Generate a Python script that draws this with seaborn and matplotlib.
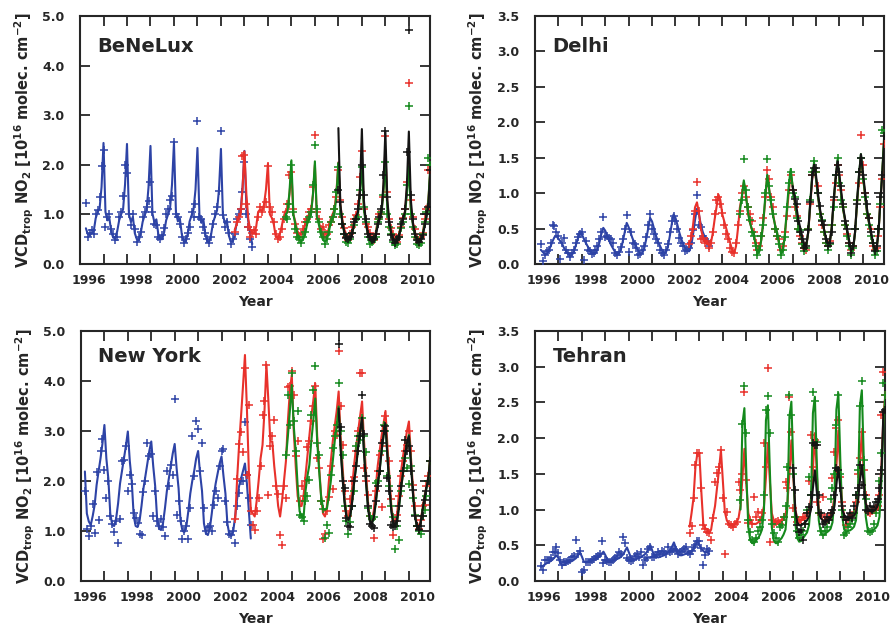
import numpy as np
import pandas as pd
import matplotlib
matplotlib.use("Agg")
import matplotlib.pyplot as plt
import seaborn as sns
from matplotlib.ticker import MultipleLocator, FormatStrFormatter

# ==========================================
# DATA: monthly tropospheric NO2 columns (1e16 molec/cm2)
# "line" = fitted seasonal model, "obs" = monthly means (+ markers)
# ==========================================
INSTRUMENTS = ["GOME", "SCIAMACHY", "OMI", "GOME-2"]
COLORS = {"GOME": "#2d43a6", "SCIAMACHY": "#e8312b", "OMI": "#14891c", "GOME-2": "#141414"}

# ---- BeNeLux ----
benelux_gome_start = (1996, 4)
benelux_gome_line = [
    0.72, 0.60, 0.58, 0.62, 0.66, 0.92, 1.05, 1.12, 1.55,
    2.44, 1.05, 0.88, 0.92, 0.64, 0.53, 0.52, 0.66, 0.88, 1.00, 1.10, 1.60,
    2.42, 1.00, 0.85, 0.95, 0.62, 0.50, 0.47, 0.62, 0.85, 0.98, 1.08, 1.55,
    2.38, 1.02, 0.84, 0.90, 0.60, 0.50, 0.50, 0.64, 0.88, 1.00, 1.12, 1.60,
    2.44, 1.05, 0.86, 0.92, 0.60, 0.46, 0.45, 0.60, 0.86, 0.98, 1.10, 1.50,
    2.34, 1.00, 0.83, 0.90, 0.60, 0.46, 0.45, 0.60, 0.84, 0.96, 1.08, 1.50,
    2.32, 1.00, 0.82, 0.88, 0.58, 0.45, 0.45, 0.58, 0.82, 0.95, 1.05, 1.50,
    2.28, 1.15, 0.85, 0.60, 0.40]
benelux_gome_obs = [
    1.22, 0.55, 0.62, 0.68, 0.60, 1.00, 1.08, 1.35, 1.97,
    2.30, 0.75, 0.95, 1.00, 0.70, 0.60, 0.48, 0.55, 0.95, 1.05, 1.38, 2.00,
    1.83, 1.00, 0.78, 1.00, 0.70, 0.45, 0.55, 0.65, 0.95, 1.05, 1.15, 1.27,
    1.65, 1.05, 0.80, 0.78, 0.55, 0.50, 0.58, 0.72, 1.00, 1.10, 1.30, 1.37,
    2.46, 1.00, 0.95, 0.80, 0.55, 0.42, 0.50, 0.62, 0.75, 1.05, 0.95, 1.20,
    2.88, 0.95, 0.90, 0.75, 0.62, 0.50, 0.42, 0.55, 0.80, 1.00, 1.15, 1.48,
    2.68, 0.98, 0.75, 0.85, 0.62, 0.40, 0.50, 0.60, 0.90, 1.00, 1.10, 1.45,
    2.05, 1.00, 0.75, 0.50, 0.35]
benelux_scia_start = (2002, 8)
benelux_scia_line = [
    0.68, 0.80, 0.93, 0.98, 1.50,
    2.27, 1.40, 0.90, 0.68, 0.64, 0.62, 0.75, 1.05, 1.10, 1.05, 1.20, 1.50,
    2.02, 1.00, 0.93, 0.80, 0.55, 0.53, 0.60, 0.75, 0.95, 1.07, 1.10, 1.40,
    1.87, 1.00, 0.85, 0.67, 0.60, 0.60, 0.65, 0.80, 0.93, 1.00, 1.05, 1.40,
    2.00, 0.95, 0.85, 0.70, 0.60, 0.53, 0.55, 0.70, 0.90, 1.00, 1.10, 1.45,
    2.05, 1.20, 0.90, 0.70, 0.60, 0.55, 0.55, 0.65, 0.85, 1.00, 1.10, 1.50,
    2.15, 1.20, 0.85, 0.70, 0.58, 0.52, 0.50, 0.62, 0.85, 0.95, 1.05, 1.50,
    2.30, 1.20, 0.85, 0.70, 0.55, 0.50, 0.50, 0.60, 0.80, 0.95, 1.05, 1.50,
    2.05, 1.15, 0.85, 0.65, 0.55, 0.48, 0.50, 0.60, 0.85, 1.00, 1.30, 1.90]
benelux_scia_obs = [
    0.65, 0.85, 0.95, 1.10, 2.17,
    2.20, 1.20, 0.75, 0.55, 0.62, 0.68, 0.60, 0.95, 1.15, 1.05, 1.15, 1.25,
    1.98, 1.15, 1.05, 0.85, 0.60, 0.50, 0.55, 0.70, 0.90, 1.05, 1.20, 1.80,
    1.85, 1.10, 0.80, 0.62, 0.55, 0.60, 0.70, 0.85, 0.90, 1.05, 1.10, 1.55,
    2.60, 1.05, 0.90, 0.70, 0.75, 0.62, 0.60, 0.78, 0.85, 0.95, 1.10, 1.35,
    1.90, 1.30, 0.95, 0.72, 0.55, 0.48, 0.60, 0.75, 0.90, 0.98, 1.20, 1.75,
    2.27, 1.10, 0.80, 0.75, 0.62, 0.55, 0.48, 0.60, 0.90, 1.00, 1.00, 1.35,
    2.59, 1.45, 0.90, 0.72, 0.60, 0.50, 0.45, 0.58, 0.75, 0.92, 1.10, 1.65,
    3.65, 1.30, 0.95, 0.70, 0.52, 0.42, 0.55, 0.62, 0.90, 1.10, 1.90, 1.90]
benelux_omi_start = (2004, 10)
benelux_omi_line = [
    0.98, 1.05, 1.45,
    2.09, 1.00, 0.80, 0.62, 0.50, 0.45, 0.50, 0.60, 0.80, 0.90, 1.00, 1.40,
    2.07, 0.95, 0.80, 0.60, 0.50, 0.45, 0.48, 0.62, 0.82, 0.92, 1.00, 1.40,
    2.04, 1.10, 0.85, 0.62, 0.50, 0.45, 0.47, 0.60, 0.80, 0.90, 1.00, 1.40,
    2.05, 1.10, 0.82, 0.60, 0.48, 0.42, 0.45, 0.58, 0.80, 0.90, 1.00, 1.45,
    2.05, 1.10, 0.80, 0.60, 0.48, 0.42, 0.45, 0.58, 0.78, 0.90, 1.00, 1.40,
    1.97, 1.10, 0.80, 0.60, 0.48, 0.42, 0.45, 0.58, 0.80, 0.95, 1.30, 2.00]
benelux_omi_obs = [
    0.95, 0.90, 1.20,
    2.00, 1.05, 0.70, 0.55, 0.50, 0.42, 0.55, 0.65, 0.85, 0.95, 1.05, 1.60,
    2.40, 1.10, 0.85, 0.65, 0.55, 0.40, 0.50, 0.65, 0.85, 0.95, 1.10, 1.45,
    1.95, 1.00, 0.80, 0.60, 0.45, 0.42, 0.50, 0.62, 0.78, 0.90, 0.95, 1.50,
    1.95, 1.15, 0.85, 0.55, 0.40, 0.45, 0.50, 0.55, 0.85, 0.90, 1.05, 1.40,
    2.05, 1.00, 0.75, 0.60, 0.45, 0.38, 0.40, 0.55, 0.72, 0.85, 1.00, 1.60,
    3.18, 1.00, 0.75, 0.55, 0.40, 0.38, 0.42, 0.60, 0.85, 1.05, 2.13, 2.00]
benelux_gome2_start = (2007, 1)
benelux_gome2_line = [
    2.74, 1.20, 0.85, 0.65, 0.55, 0.50, 0.50, 0.60, 0.80, 0.95, 1.05, 1.50,
    2.72, 1.30, 0.85, 0.62, 0.50, 0.45, 0.45, 0.55, 0.75, 0.90, 1.05, 1.60,
    2.68, 1.30, 0.85, 0.62, 0.50, 0.45, 0.45, 0.55, 0.75, 0.90, 1.05, 1.60,
    2.67, 1.30, 0.85, 0.62, 0.50, 0.45, 0.45, 0.55, 0.75, 0.95, 1.20, 1.90]
benelux_gome2_obs = [
    1.50, 1.25, 0.80, 0.60, 0.52, 0.50, 0.55, 0.62, 0.85, 0.90, 1.10, 1.40,
    2.00, 1.40, 0.90, 0.60, 0.55, 0.48, 0.50, 0.60, 0.80, 0.95, 1.10, 1.80,
    2.68, 1.35, 0.85, 0.58, 0.48, 0.42, 0.50, 0.55, 0.80, 0.90, 1.10, 2.25,
    4.72, 1.40, 0.90, 0.60, 0.48, 0.45, 0.50, 0.58, 0.80, 1.00, 1.15, 1.90]

# ---- Delhi ----
delhi_gome_start = (1996, 4)
delhi_gome_line = [
    0.20, 0.17, 0.14, 0.14, 0.18, 0.25, 0.32, 0.38, 0.39,
    0.36, 0.32, 0.28, 0.22, 0.18, 0.14, 0.12, 0.13, 0.18, 0.27, 0.36, 0.45,
    0.42, 0.36, 0.30, 0.25, 0.20, 0.16, 0.14, 0.15, 0.20, 0.30, 0.42, 0.51,
    0.47, 0.40, 0.33, 0.27, 0.22, 0.17, 0.14, 0.15, 0.20, 0.32, 0.45, 0.58,
    0.52, 0.44, 0.36, 0.30, 0.24, 0.18, 0.15, 0.15, 0.22, 0.35, 0.50, 0.65,
    0.60, 0.50, 0.40, 0.32, 0.26, 0.20, 0.16, 0.16, 0.23, 0.38, 0.55, 0.70,
    0.65, 0.55, 0.44, 0.35, 0.28, 0.22, 0.18, 0.18, 0.25, 0.42, 0.62, 0.78,
    0.70, 0.55, 0.45, 0.38, 0.34, 0.30]
delhi_gome_obs = [
    0.28, 0.04, 0.12, 0.18, 0.20, 0.30, 0.55, 0.53, 0.45,
    0.40, 0.07, 0.30, 0.36, 0.20, 0.15, 0.10, 0.16, 0.20, 0.30, 0.38, 0.42,
    0.45, 0.06, 0.32, 0.20, 0.18, 0.14, 0.16, 0.20, 0.25, 0.35, 0.45, 0.66,
    0.38, 0.40, 0.36, 0.35, 0.30, 0.16, 0.12, 0.17, 0.24, 0.35, 0.50, 0.69,
    0.17, 0.45, 0.30, 0.28, 0.22, 0.12, 0.14, 0.20, 0.25, 0.38, 0.55, 0.71,
    0.50, 0.42, 0.35, 0.30, 0.20, 0.15, 0.12, 0.20, 0.28, 0.45, 0.60, 0.68,
    0.60, 0.50, 0.36, 0.30, 0.25, 0.18, 0.20, 0.22, 0.30, 0.48, 0.70, 0.97,
    0.55, 0.52, 0.40, 0.35, 0.32, 0.25]
delhi_scia_start = (2002, 8)
delhi_scia_line = [
    0.30, 0.35, 0.55, 0.80, 0.87,
    0.72, 0.50, 0.38, 0.33, 0.30, 0.27, 0.28, 0.42, 0.62, 0.80, 0.98, 0.90,
    0.70, 0.60, 0.50, 0.40, 0.30, 0.20, 0.15, 0.25, 0.50, 0.80, 0.95, 1.15,
    1.00, 0.75, 0.60, 0.50, 0.45, 0.30, 0.17, 0.20, 0.35, 0.60, 0.90, 1.25,
    1.05, 0.85, 0.70, 0.55, 0.45, 0.30, 0.18, 0.20, 0.40, 0.70, 1.00, 1.30,
    1.10, 0.90, 0.70, 0.55, 0.45, 0.35, 0.25, 0.25, 0.45, 0.80, 1.20, 1.38,
    1.20, 0.95, 0.75, 0.60, 0.50, 0.35, 0.28, 0.30, 0.50, 0.85, 1.20, 1.42,
    1.20, 0.95, 0.75, 0.60, 0.45, 0.30, 0.18, 0.22, 0.45, 0.85, 1.20, 1.50,
    1.25, 1.00, 0.75, 0.60, 0.45, 0.30, 0.18, 0.20, 0.45, 0.90, 1.30, 1.80]
delhi_scia_obs = [
    0.28, 0.40, 0.50, 0.75, 1.16,
    0.75, 0.35, 0.36, 0.30, 0.33, 0.22, 0.30, 0.45, 0.70, 0.90, 0.95, 0.85,
    0.72, 0.55, 0.42, 0.35, 0.22, 0.17, 0.15, 0.30, 0.55, 0.75, 1.00, 1.10,
    0.95, 0.80, 0.70, 0.60, 0.45, 0.30, 0.20, 0.25, 0.40, 0.65, 0.95, 1.32,
    1.20, 0.95, 0.80, 0.50, 0.40, 0.35, 0.20, 0.25, 0.45, 0.68, 1.05, 1.25,
    1.05, 0.80, 0.68, 0.50, 0.40, 0.30, 0.22, 0.20, 0.50, 0.85, 1.25, 1.30,
    1.30, 1.10, 0.70, 0.55, 0.45, 0.30, 0.25, 0.32, 0.55, 0.90, 1.15, 1.40,
    1.25, 1.05, 0.80, 0.55, 0.42, 0.30, 0.20, 0.25, 0.50, 0.90, 1.15, 1.82,
    1.40, 1.00, 0.70, 0.65, 0.50, 0.25, 0.20, 0.22, 0.40, 0.80, 1.20, 1.70]
delhi_omi_start = (2004, 10)
delhi_omi_line = [
    0.75, 0.95, 1.18,
    1.00, 0.75, 0.60, 0.50, 0.42, 0.28, 0.15, 0.18, 0.35, 0.60, 0.95, 1.26,
    1.05, 0.85, 0.68, 0.55, 0.45, 0.30, 0.15, 0.18, 0.40, 0.75, 1.10, 1.34,
    1.10, 0.90, 0.70, 0.55, 0.45, 0.30, 0.22, 0.25, 0.45, 0.85, 1.25, 1.43,
    1.20, 0.95, 0.75, 0.60, 0.50, 0.35, 0.27, 0.30, 0.50, 0.85, 1.20, 1.47,
    1.20, 0.95, 0.75, 0.60, 0.45, 0.30, 0.15, 0.20, 0.45, 0.85, 1.25, 1.55,
    1.25, 1.00, 0.75, 0.60, 0.45, 0.30, 0.15, 0.20, 0.45, 0.90, 1.35, 1.85]
delhi_omi_obs = [
    0.70, 0.90, 1.48,
    1.05, 0.80, 0.62, 0.45, 0.40, 0.25, 0.12, 0.20, 0.40, 0.55, 1.00, 1.48,
    1.10, 0.90, 0.70, 0.50, 0.40, 0.28, 0.12, 0.20, 0.38, 0.80, 1.15, 1.30,
    1.00, 0.95, 0.65, 0.50, 0.48, 0.28, 0.18, 0.22, 0.50, 0.90, 1.30, 1.45,
    1.30, 1.00, 0.70, 0.62, 0.45, 0.30, 0.20, 0.28, 0.55, 0.80, 1.25, 1.50,
    1.15, 0.90, 0.80, 0.55, 0.40, 0.25, 0.12, 0.22, 0.50, 0.90, 1.30, 1.50,
    1.20, 0.95, 0.70, 0.55, 0.40, 0.30, 0.12, 0.18, 0.50, 0.85, 1.89, 1.85]
delhi_gome2_start = (2007, 1)
delhi_gome2_line = [
    1.10, 0.95, 0.80, 0.62, 0.50, 0.38, 0.27, 0.27, 0.45, 0.85, 1.20, 1.40,
    1.25, 1.00, 0.78, 0.62, 0.50, 0.38, 0.30, 0.30, 0.50, 0.90, 1.20, 1.45,
    1.25, 1.00, 0.78, 0.62, 0.48, 0.33, 0.20, 0.22, 0.45, 0.90, 1.25, 1.55,
    1.30, 1.05, 0.80, 0.62, 0.48, 0.33, 0.20, 0.22, 0.45, 0.90, 1.30, 1.80]
delhi_gome2_obs = [
    1.05, 0.92, 0.85, 0.60, 0.45, 0.35, 0.22, 0.25, 0.48, 0.88, 1.25, 1.35,
    1.35, 1.00, 0.82, 0.60, 0.55, 0.35, 0.25, 0.30, 0.45, 0.95, 1.25, 1.40,
    1.30, 1.10, 0.85, 0.60, 0.50, 0.30, 0.15, 0.25, 0.50, 0.85, 1.30, 1.50,
    1.25, 1.00, 0.85, 0.65, 0.45, 0.30, 0.18, 0.25, 0.50, 0.95, 1.25, 1.80]

# ---- New York ----
ny_gome_start = (1996, 3)
ny_gome_line = [
    2.19, 1.35, 1.19, 1.12, 1.30, 1.52, 1.92, 2.19, 2.45, 2.75,
    3.12, 2.45, 2.05, 1.35, 1.12, 1.10, 1.25, 1.55, 1.95, 2.20, 2.45, 2.70,
    2.99, 2.40, 2.00, 1.30, 1.10, 1.08, 1.20, 1.50, 1.85, 2.10, 2.35, 2.60,
    2.79, 2.30, 1.90, 1.25, 1.05, 1.02, 1.15, 1.45, 1.80, 2.05, 2.30, 2.55,
    2.74, 2.25, 1.85, 1.20, 1.00, 0.98, 1.10, 1.40, 1.75, 2.00, 2.20, 2.45,
    2.60, 2.15, 1.80, 1.15, 0.95, 0.92, 1.05, 1.35, 1.70, 1.95, 2.15, 2.35,
    2.49, 2.10, 1.75, 1.15, 0.93, 0.90, 1.00, 1.30, 1.65, 1.90, 2.05, 2.20,
    2.35, 1.95, 1.40, 0.85]
ny_gome_obs = [
    1.79, 1.04, 0.91, 1.10, 1.54, 0.97, 2.17, 1.23, 2.60, 2.83,
    2.21, 1.65, 1.99, 1.30, 1.15, 0.99, 1.20, 0.77, 1.25, 2.39, 2.41, 2.70,
    1.79, 2.12, 1.93, 1.35, 1.27, 1.17, 0.95, 0.93, 1.77, 2.00, 2.75, 2.50,
    2.53, 1.31, 1.80, 1.20, 1.10, 1.25, 1.09, 0.91, 2.19, 1.90, 2.32, 2.12,
    3.64, 1.32, 1.59, 1.20, 0.85, 1.00, 1.10, 0.85, 1.45, 2.89, 2.10, 3.19,
    3.03, 2.20, 2.75, 1.45, 1.00, 1.09, 1.10, 1.00, 1.52, 1.80, 1.65, 2.30,
    2.60, 2.63, 1.60, 1.19, 0.95, 0.93, 1.00, 0.77, 1.50, 1.75, 2.00, 1.99,
    3.17, 2.12, 1.65, 1.12]
ny_scia_start = (2002, 8)
ny_scia_line = [
    1.22, 2.05, 2.72, 3.30, 3.90,
    4.52, 3.45, 2.19, 1.42, 1.35, 1.29, 1.60, 2.00, 2.45, 2.72, 3.40, 4.33,
    3.60, 2.79, 2.79, 2.30, 1.92, 1.50, 1.29, 1.60, 2.00, 2.40, 3.20, 3.80,
    4.12, 3.00, 2.30, 1.70, 1.50, 1.50, 1.70, 2.10, 2.50, 2.90, 3.30, 3.60,
    3.95, 2.90, 2.30, 1.70, 1.35, 1.29, 1.50, 2.00, 2.40, 2.80, 3.10, 3.40,
    3.79, 2.90, 2.30, 1.70, 1.30, 1.25, 1.45, 1.90, 2.35, 2.70, 3.00, 3.30,
    3.59, 2.80, 2.20, 1.60, 1.25, 1.20, 1.40, 1.85, 2.30, 2.60, 2.90, 3.15,
    3.40, 2.70, 2.10, 1.50, 1.20, 1.15, 1.35, 1.80, 2.20, 2.50, 2.75, 3.00,
    3.19, 2.50, 1.90, 1.40, 1.15, 1.10, 1.20, 1.45, 1.70, 1.90, 2.10, 2.50]
ny_scia_obs = [
    1.25, 2.03, 2.74, 2.97, 2.57,
    4.25, 2.12, 3.51, 1.40, 1.13, 1.02, 1.40, 1.65, 2.30, 3.32, 3.60, 4.32,
    1.71, 2.69, 2.90, 3.22, 1.90, 1.73, 0.93, 0.72, 1.90, 1.65, 3.87, 3.90,
    4.20, 3.71, 2.50, 2.79, 1.60, 1.89, 1.70, 2.00, 2.67, 2.80, 3.20, 3.50,
    3.90, 2.45, 2.25, 1.59, 0.85, 0.95, 1.40, 1.67, 2.30, 1.84, 3.00, 2.92,
    4.60, 3.50, 2.72, 1.80, 1.40, 1.31, 1.64, 2.00, 2.07, 2.60, 3.00, 4.15,
    4.15, 2.25, 2.00, 1.72, 1.30, 1.25, 0.87, 1.80, 2.20, 2.51, 1.47, 3.00,
    3.30, 2.70, 2.39, 1.64, 0.93, 1.20, 1.32, 1.70, 2.10, 2.40, 2.60, 2.71,
    3.00, 2.60, 1.92, 1.50, 1.10, 1.05, 1.22, 1.50, 1.52, 1.90, 2.10, 2.40]
ny_omi_start = (2004, 10)
ny_omi_line = [
    2.45, 2.90, 3.40,
    3.92, 3.10, 2.59, 1.90, 1.39, 1.30, 1.25, 1.79, 2.10, 2.32, 2.80, 3.20,
    3.65, 2.80, 2.20, 1.70, 1.45, 1.42, 1.45, 1.70, 2.00, 2.40, 2.80, 3.10,
    3.49, 2.70, 2.10, 1.60, 1.30, 1.22, 1.30, 1.60, 2.00, 2.30, 2.70, 3.00,
    3.25, 2.60, 2.00, 1.50, 1.20, 1.15, 1.25, 1.55, 1.90, 2.20, 2.60, 2.90,
    3.12, 2.50, 1.90, 1.40, 1.15, 1.12, 1.20, 1.50, 1.85, 2.15, 2.50, 2.75,
    2.92, 2.40, 1.80, 1.35, 1.10, 1.05, 1.15, 1.40, 1.65, 1.85, 2.05, 2.50]
ny_omi_obs = [
    2.52, 3.72, 3.12,
    4.15, 3.20, 2.60, 3.40, 1.32, 1.29, 1.20, 1.60, 1.69, 2.02, 3.31, 3.81,
    4.29, 2.75, 2.52, 1.60, 1.44, 0.87, 1.12, 0.97, 2.12, 2.65, 2.90, 3.12,
    3.95, 3.00, 2.52, 1.50, 1.20, 0.95, 1.19, 1.50, 1.80, 2.69, 2.90, 2.82,
    3.25, 2.90, 2.57, 1.45, 1.30, 1.25, 1.29, 1.95, 2.00, 2.19, 2.60, 3.12,
    3.00, 2.09, 1.90, 1.50, 1.29, 0.65, 1.10, 0.82, 1.80, 2.20, 2.45, 2.25,
    1.94, 2.30, 1.65, 1.32, 1.10, 1.00, 0.95, 1.30, 1.42, 1.70, 1.99, 2.40]
ny_gome2_start = (2007, 1)
ny_gome2_line = [
    3.45, 2.65, 2.05, 1.58, 1.28, 1.22, 1.32, 1.62, 2.00, 2.30, 2.68, 3.00,
    3.27, 2.55, 1.98, 1.48, 1.20, 1.15, 1.27, 1.57, 1.92, 2.22, 2.60, 2.92,
    3.14, 2.48, 1.88, 1.40, 1.15, 1.12, 1.22, 1.52, 1.87, 2.17, 2.50, 2.77,
    2.90, 2.38, 1.78, 1.33, 1.10, 1.05, 1.17, 1.42, 1.67, 1.87, 2.07, 2.50]
ny_gome2_obs = [
    4.74, 3.07, 2.00, 1.85, 1.27, 1.10, 1.09, 1.50, 1.99, 2.30, 2.60, 2.89,
    3.72, 2.93, 2.09, 1.49, 1.15, 1.10, 1.07, 1.60, 1.90, 2.20, 2.75, 3.00,
    3.10, 2.05, 1.80, 1.13, 1.09, 1.10, 1.20, 1.49, 1.90, 2.20, 2.82, 2.60,
    2.70, 2.19, 1.82, 1.30, 1.10, 1.02, 1.10, 1.30, 1.62, 1.80, 2.00, 2.40]

# ---- Tehran ----
tehran_gome_start = (1996, 4)
tehran_gome_line = [
    0.20, 0.21, 0.23, 0.25, 0.26, 0.28, 0.30, 0.33, 0.36,
    0.32, 0.25, 0.22, 0.23, 0.25, 0.26, 0.27, 0.28, 0.30, 0.32, 0.36, 0.40,
    0.34, 0.27, 0.26, 0.27, 0.28, 0.29, 0.30, 0.31, 0.32, 0.35, 0.38, 0.41,
    0.36, 0.30, 0.28, 0.28, 0.29, 0.30, 0.31, 0.32, 0.34, 0.37, 0.42, 0.47,
    0.40, 0.33, 0.31, 0.30, 0.31, 0.32, 0.33, 0.35, 0.37, 0.40, 0.45, 0.50,
    0.42, 0.36, 0.34, 0.33, 0.34, 0.35, 0.36, 0.38, 0.40, 0.43, 0.48, 0.54,
    0.46, 0.38, 0.36, 0.36, 0.37, 0.38, 0.39, 0.40, 0.42, 0.45, 0.50, 0.57,
    0.50, 0.45, 0.42, 0.40, 0.40, 0.38]
tehran_gome_obs = [
    0.21, 0.15, 0.29, 0.29, 0.30, 0.32, 0.41, 0.40, 0.48,
    0.39, 0.30, 0.23, 0.26, 0.26, 0.28, 0.30, 0.33, 0.35, 0.58, 0.38, 0.42,
    0.13, 0.15, 0.27, 0.26, 0.26, 0.30, 0.31, 0.33, 0.35, 0.38, 0.56, 0.25,
    0.30, 0.28, 0.27, 0.27, 0.30, 0.32, 0.35, 0.40, 0.38, 0.62, 0.53, 0.32,
    0.30, 0.28, 0.30, 0.35, 0.38, 0.34, 0.40, 0.22, 0.30, 0.32, 0.45, 0.48,
    0.33, 0.34, 0.36, 0.40, 0.38, 0.42, 0.40, 0.38, 0.48, 0.40, 0.42, 0.45,
    0.43, 0.38, 0.40, 0.42, 0.45, 0.48, 0.40, 0.38, 0.42, 0.47, 0.50, 0.56,
    0.56, 0.46, 0.23, 0.37, 0.45, 0.42]
tehran_scia_start = (2002, 8)
tehran_scia_line = [
    0.76, 0.95, 1.16, 1.60, 1.79,
    1.79, 1.25, 0.80, 0.74, 0.72, 0.67, 0.72, 0.90, 1.05, 1.30, 1.55, 1.83,
    1.40, 0.97, 0.85, 0.80, 0.78, 0.78, 0.79, 0.82, 0.88, 1.05, 1.45, 1.85,
    1.35, 0.95, 0.85, 0.80, 0.80, 0.80, 0.82, 0.85, 0.92, 1.05, 1.45, 1.93,
    1.40, 0.95, 0.85, 0.80, 0.80, 0.82, 0.85, 0.88, 0.92, 1.10, 1.50, 1.97,
    1.45, 1.00, 0.88, 0.85, 0.85, 0.87, 0.90, 0.92, 0.98, 1.15, 1.55, 2.07,
    1.50, 1.00, 0.90, 0.85, 0.85, 0.87, 0.90, 0.92, 0.98, 1.20, 1.60, 2.11,
    1.50, 1.05, 0.92, 0.88, 0.88, 0.90, 0.92, 0.95, 1.02, 1.25, 1.65, 2.09,
    1.50, 1.10, 1.00, 0.97, 0.97, 0.98, 1.00, 1.05, 1.20, 1.60, 2.30, 2.60]
tehran_scia_obs = [
    0.67, 0.77, 1.16, 1.63, 1.79,
    1.79, 1.30, 0.78, 0.73, 0.69, 0.67, 0.57, 0.88, 1.39, 1.51, 1.60, 1.83,
    1.16, 0.38, 0.97, 0.80, 0.78, 0.76, 0.80, 0.82, 1.39, 1.27, 1.50, 2.65,
    1.41, 0.81, 0.85, 0.80, 1.18, 0.90, 0.97, 0.85, 0.95, 1.93, 1.60, 2.98,
    0.55, 0.85, 0.80, 0.82, 0.84, 0.80, 0.85, 0.90, 1.39, 1.30, 2.57, 2.09,
    1.02, 0.90, 0.83, 0.86, 0.85, 0.90, 0.88, 0.95, 1.40, 2.05, 1.60, 1.97,
    1.10, 0.95, 0.92, 1.18, 0.90, 0.85, 0.88, 0.95, 1.44, 1.80, 2.14, 2.25,
    1.45, 1.10, 0.90, 0.78, 0.85, 0.90, 0.92, 0.95, 1.10, 1.50, 1.72, 2.09,
    1.55, 1.20, 0.97, 0.95, 0.98, 1.00, 1.02, 1.05, 1.20, 2.32, 2.93, 2.60]
tehran_omi_start = (2004, 10)
tehran_omi_line = [
    1.00, 2.20, 2.42,
    1.50, 0.75, 0.57, 0.53, 0.53, 0.57, 0.60, 0.65, 0.72, 1.00, 2.25, 2.46,
    1.55, 0.75, 0.57, 0.53, 0.53, 0.57, 0.60, 0.65, 0.72, 1.05, 2.30, 2.51,
    1.60, 0.80, 0.60, 0.55, 0.56, 0.60, 0.64, 0.68, 0.78, 1.10, 2.35, 2.58,
    1.65, 0.85, 0.68, 0.64, 0.65, 0.68, 0.70, 0.73, 0.82, 1.15, 2.40, 2.63,
    1.70, 0.90, 0.72, 0.69, 0.70, 0.71, 0.73, 0.76, 0.85, 1.20, 2.45, 2.67,
    1.70, 0.90, 0.72, 0.69, 0.70, 0.72, 0.74, 0.78, 0.90, 1.40, 2.20, 2.60]
tehran_omi_obs = [
    1.13, 2.20, 2.73,
    2.07, 0.85, 0.69, 0.57, 0.55, 0.60, 0.70, 0.75, 0.85, 1.20, 2.40, 2.59,
    2.07, 0.80, 0.67, 0.60, 0.55, 0.75, 0.78, 0.90, 1.05, 1.60, 2.60, 2.32,
    1.50, 0.90, 0.70, 0.60, 0.65, 0.70, 0.80, 1.00, 1.45, 1.20, 2.65, 2.52,
    1.95, 0.95, 0.70, 0.64, 0.70, 0.75, 0.85, 1.15, 1.30, 1.50, 2.18, 2.60,
    1.50, 1.00, 0.65, 0.67, 0.75, 0.80, 0.85, 0.95, 1.20, 1.55, 2.45, 2.80,
    1.70, 1.15, 0.70, 0.69, 0.70, 0.80, 0.95, 1.10, 1.40, 1.79, 2.77, 2.60]
tehran_gome2_start = (2007, 1)
tehran_gome2_line = [
    1.58, 1.00, 0.82, 0.78, 0.78, 0.80, 0.82, 0.85, 0.90, 1.00, 1.30, 1.55,
    1.25, 0.95, 0.88, 0.85, 0.83, 0.84, 0.86, 0.88, 0.92, 1.05, 1.35, 1.59,
    1.30, 1.00, 0.92, 0.90, 0.88, 0.88, 0.90, 0.92, 0.96, 1.10, 1.40, 1.62,
    1.35, 1.08, 1.00, 0.98, 0.97, 0.98, 1.00, 1.05, 1.15, 1.50, 2.35, 2.40]
tehran_gome2_obs = [
    1.58, 1.27, 0.78, 0.69, 0.72, 0.57, 0.80, 0.95, 1.04, 1.20, 1.93, 1.90,
    1.90, 1.20, 0.95, 0.80, 0.82, 0.90, 0.85, 0.95, 1.00, 1.20, 1.58, 1.55,
    1.30, 1.05, 0.90, 0.85, 0.90, 0.95, 0.88, 1.05, 1.20, 1.30, 1.62, 1.35,
    1.20, 1.00, 0.98, 1.05, 1.00, 1.04, 1.10, 1.15, 1.30, 1.55, 2.36, 2.40]

PANELS = [
    ("BeNeLux", 5.0, 1.0, [
        ("GOME", benelux_gome_start, benelux_gome_line, benelux_gome_obs),
        ("SCIAMACHY", benelux_scia_start, benelux_scia_line, benelux_scia_obs),
        ("OMI", benelux_omi_start, benelux_omi_line, benelux_omi_obs),
        ("GOME-2", benelux_gome2_start, benelux_gome2_line, benelux_gome2_obs)]),
    ("Delhi", 3.5, 0.5, [
        ("GOME", delhi_gome_start, delhi_gome_line, delhi_gome_obs),
        ("SCIAMACHY", delhi_scia_start, delhi_scia_line, delhi_scia_obs),
        ("OMI", delhi_omi_start, delhi_omi_line, delhi_omi_obs),
        ("GOME-2", delhi_gome2_start, delhi_gome2_line, delhi_gome2_obs)]),
    ("New York", 5.0, 1.0, [
        ("GOME", ny_gome_start, ny_gome_line, ny_gome_obs),
        ("SCIAMACHY", ny_scia_start, ny_scia_line, ny_scia_obs),
        ("OMI", ny_omi_start, ny_omi_line, ny_omi_obs),
        ("GOME-2", ny_gome2_start, ny_gome2_line, ny_gome2_obs)]),
    ("Tehran", 3.5, 0.5, [
        ("GOME", tehran_gome_start, tehran_gome_line, tehran_gome_obs),
        ("SCIAMACHY", tehran_scia_start, tehran_scia_line, tehran_scia_obs),
        ("OMI", tehran_omi_start, tehran_omi_line, tehran_omi_obs),
        ("GOME-2", tehran_gome2_start, tehran_gome2_line, tehran_gome2_obs)]),
]

# axes boxes in figure fractions (left, bottom, width, height) and title height
AXES_BOXES = [
    [0.0898, 0.5803, 0.3928, 0.3943],
    [0.6004, 0.5803, 0.3917, 0.3943],
    [0.0909, 0.0763, 0.3917, 0.3975],
    [0.6004, 0.0763, 0.3928, 0.3975],
]
TITLE_Y = [0.915, 0.915, 0.935, 0.935]
LABEL_YEARS = list(range(1996, 2011, 2))


def month_axis(start, n):
    year, month = start
    return year + (month - 1 + np.arange(n)) / 12.0


def build_frame(records):
    frames = []
    for inst, start, line, obs in records:
        if len(line) != len(obs):
            raise ValueError(f"{inst}: {len(line)} fit values vs {len(obs)} obs")
        frames.append(pd.DataFrame({
            "year": month_axis(start, len(line)),
            "fit": line,
            "obs": obs,
            "instrument": inst,
        }))
    return pd.concat(frames, ignore_index=True)


def draw_panel(ax, city, ymax, ystep, records, title_y):
    df = build_frame(records)
    for i, inst in enumerate(INSTRUMENTS):
        sub = df[df["instrument"] == inst]
        sns.scatterplot(data=sub, x="year", y="obs", marker="+", color=COLORS[inst],
                        s=38, linewidth=1.1, ax=ax, legend=False, zorder=3 + 2 * i)
        sns.lineplot(data=sub, x="year", y="fit", color=COLORS[inst], linewidth=1.5,
                     estimator=None, ax=ax, legend=False, zorder=4 + 2 * i)

    ax.set_xlim(1996, 2010.9)
    ax.set_ylim(0, ymax)
    ax.yaxis.set_major_locator(MultipleLocator(ystep))
    ax.yaxis.set_major_formatter(FormatStrFormatter("%.1f"))

    # tick marks on year boundaries, labels sit inside the even years
    ax.set_xticks(np.arange(1997, 2011))
    ax.set_xticklabels([])
    ax.set_xticks([y + 0.37 for y in LABEL_YEARS], minor=True)
    ax.set_xticklabels([str(y) for y in LABEL_YEARS], minor=True)

    ax.tick_params(axis="both", which="major", direction="in", length=7, width=1.3,
                   top=True, right=True)
    ax.tick_params(axis="x", which="minor", length=0, pad=7, labelsize=9)
    ax.tick_params(axis="y", which="major", pad=11, labelsize=9)
    for sp in ax.spines.values():
        sp.set_linewidth(1.5)

    ax.set_xlabel("Year", fontsize=10, labelpad=6)
    ax.set_ylabel(r"VCD$_{trop}$ NO$_2$ [10$^{16}$ molec. cm$^{-2}$]", fontsize=10.5, labelpad=5)
    ax.text(0.05, title_y, city, transform=ax.transAxes, fontsize=14, fontweight="bold",
            va="top", ha="left")


if __name__ == "__main__":
    sns.set_style("ticks")
    plt.rcParams["font.family"] = ["DejaVu Sans"]
    plt.rcParams["font.weight"] = "bold"
    plt.rcParams["axes.labelweight"] = "bold"
    plt.rcParams["mathtext.default"] = "bf"

    fig = plt.figure(figsize=(8.91, 6.29), dpi=100)
    for box, ty, (city, ymax, ystep, records) in zip(AXES_BOXES, TITLE_Y, PANELS):
        ax = fig.add_axes(box)
        draw_panel(ax, city, ymax, ystep, records, ty)

    fig.savefig("out.png", dpi=100)
    plt.close(fig)
